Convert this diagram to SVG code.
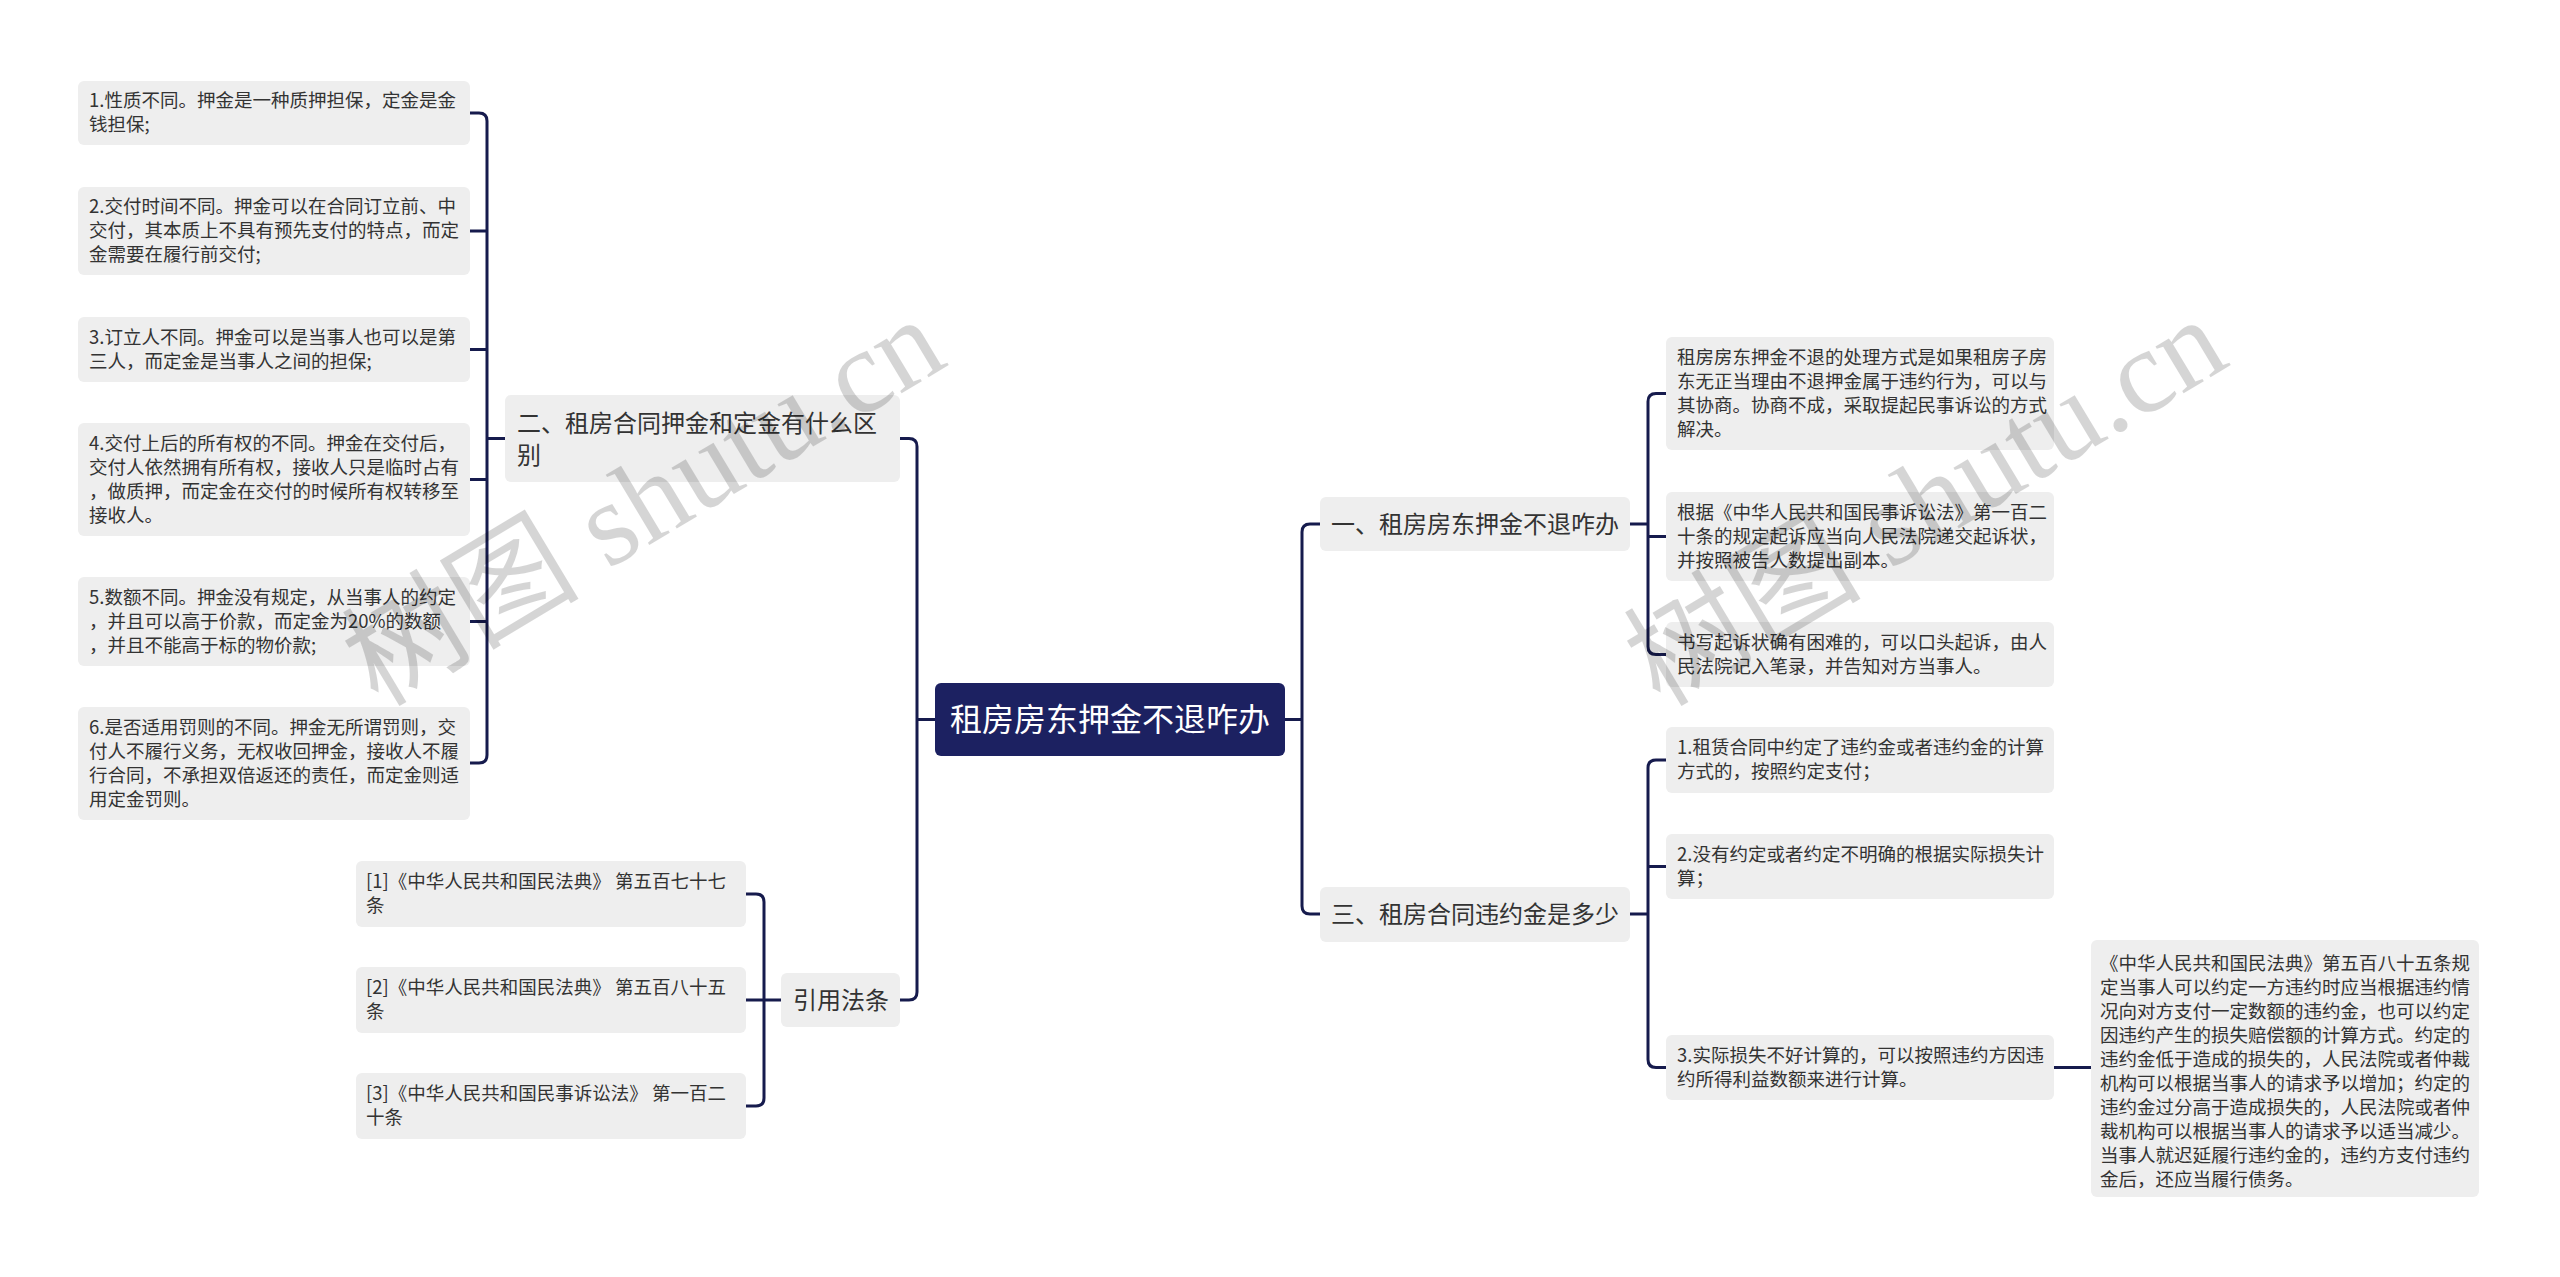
<svg xmlns="http://www.w3.org/2000/svg" width="2560" height="1277" viewBox="0 0 2560 1277">
<style>
.box{fill:#eeeeee}
.root{fill:#1c2161}
.t{font-family:"Noto Sans CJK SC","Noto Sans",sans-serif;fill:#333333}
.s{font-size:18.5px}
.m{font-size:24px}
.rt{font-family:"Noto Sans CJK SC","Noto Sans",sans-serif;font-size:32px;fill:#ffffff}
.ln{fill:none;stroke:#161b4d;stroke-width:3}
.wm{font-family:"Liberation Serif","Noto Sans CJK SC",serif;font-size:119px;fill:#000000;opacity:0.16}
</style>
<rect width="2560" height="1277" fill="#ffffff"/>
<g id="connectors">
<path class="ln" d="M935 719.5H917M900 438.5H909Q917 438.5 917 446.5V992Q917 1000 909 1000H900"/>
<path class="ln" d="M1285 719.5H1302M1320 524H1310Q1302 524 1302 532V906Q1302 914 1310 914H1320"/>
<path class="ln" d="M505 438.5H487M470 113H479Q487 113 487 121V755Q487 763 479 763H470M470 231H487M470 349.5H487M470 479.5H487M470 621.5H487"/>
<path class="ln" d="M781 1000H764M746 894H756Q764 894 764 902V1098Q764 1106 756 1106H746M746 1000H764"/>
<path class="ln" d="M1630 524H1648M1666 393.5H1656Q1648 393.5 1648 401.5V646.5Q1648 654.5 1656 654.5H1666M1648 536.5H1666"/>
<path class="ln" d="M1630 914H1648M1666 760H1656Q1648 760 1648 768V1059.5Q1648 1067.5 1656 1067.5H1666M1648 866.5H1666M2054 1067.5H2091"/>
</g>
<g id="root">
<rect class="root" x="935" y="683" width="350" height="73" rx="6"/>
<text class="rt" x="1110" y="731" text-anchor="middle">租房房东押金不退咋办</text>
</g>
<g id="n2">
<rect class="box" x="505" y="395" width="395" height="87" rx="6"/>
<text class="t m"><tspan x="517" y="431.5">二、租房合同押金和定金有什么区</tspan><tspan x="517" y="463.5">别</tspan></text>
</g>
<g id="n2c1">
<rect class="box" x="78" y="81" width="392" height="64" rx="6"/>
<text class="t s"><tspan x="89" y="107">1.性质不同。押金是一种质押担保，定金是金</tspan><tspan x="89" y="131">钱担保;</tspan></text>
</g>
<g id="n2c2">
<rect class="box" x="78" y="187" width="392" height="88" rx="6"/>
<text class="t s"><tspan x="89" y="213">2.交付时间不同。押金可以在合同订立前、中</tspan><tspan x="89" y="237">交付，其本质上不具有预先支付的特点，而定</tspan><tspan x="89" y="261">金需要在履行前交付;</tspan></text>
</g>
<g id="n2c3">
<rect class="box" x="78" y="317" width="392" height="65" rx="6"/>
<text class="t s"><tspan x="89" y="343.5">3.订立人不同。押金可以是当事人也可以是第</tspan><tspan x="89" y="367.5">三人，而定金是当事人之间的担保;</tspan></text>
</g>
<g id="n2c4">
<rect class="box" x="78" y="423" width="392" height="113" rx="6"/>
<text class="t s"><tspan x="89" y="449.5">4.交付上后的所有权的不同。押金在交付后，</tspan><tspan x="89" y="473.5">交付人依然拥有所有权，接收人只是临时占有</tspan><tspan x="89" y="497.5">，做质押，而定金在交付的时候所有权转移至</tspan><tspan x="89" y="521.5">接收人。</tspan></text>
</g>
<g id="n2c5">
<rect class="box" x="78" y="577" width="392" height="89" rx="6"/>
<text class="t s"><tspan x="89" y="603.5">5.数额不同。押金没有规定，从当事人的约定</tspan><tspan x="89" y="627.5">，并且可以高于价款，而定金为20%的数额</tspan><tspan x="89" y="651.5">，并且不能高于标的物价款;</tspan></text>
</g>
<g id="n2c6">
<rect class="box" x="78" y="707" width="392" height="113" rx="6"/>
<text class="t s"><tspan x="89" y="733.5">6.是否适用罚则的不同。押金无所谓罚则，交</tspan><tspan x="89" y="757.5">付人不履行义务，无权收回押金，接收人不履</tspan><tspan x="89" y="781.5">行合同，不承担双倍返还的责任，而定金则适</tspan><tspan x="89" y="805.5">用定金罚则。</tspan></text>
</g>
<g id="nref">
<rect class="box" x="781" y="973" width="119" height="54" rx="6"/>
<text class="t m" x="793" y="1008.5">引用法条</text>
</g>
<g id="ref1">
<rect class="box" x="356" y="861" width="390" height="66" rx="6"/>
<text class="t s"><tspan x="366" y="888">[1]《中华人民共和国民法典》 第五百七十七</tspan><tspan x="366" y="912">条</tspan></text>
</g>
<g id="ref2">
<rect class="box" x="356" y="967" width="390" height="66" rx="6"/>
<text class="t s"><tspan x="366" y="994">[2]《中华人民共和国民法典》 第五百八十五</tspan><tspan x="366" y="1018">条</tspan></text>
</g>
<g id="ref3">
<rect class="box" x="356" y="1073" width="390" height="66" rx="6"/>
<text class="t s"><tspan x="366" y="1100">[3]《中华人民共和国民事诉讼法》 第一百二</tspan><tspan x="366" y="1124">十条</tspan></text>
</g>
<g id="n1">
<rect class="box" x="1320" y="497" width="310" height="54" rx="6"/>
<text class="t m" x="1331" y="532.5">一、租房房东押金不退咋办</text>
</g>
<g id="n1c1">
<rect class="box" x="1666" y="337" width="388" height="113" rx="6"/>
<text class="t s"><tspan x="1677" y="363.5">租房房东押金不退的处理方式是如果租房子房</tspan><tspan x="1677" y="387.5">东无正当理由不退押金属于违约行为，可以与</tspan><tspan x="1677" y="411.5">其协商。协商不成，采取提起民事诉讼的方式</tspan><tspan x="1677" y="435.5">解决。</tspan></text>
</g>
<g id="n1c2">
<rect class="box" x="1666" y="492" width="388" height="89" rx="6"/>
<text class="t s"><tspan x="1677" y="518.5">根据《中华人民共和国民事诉讼法》第一百二</tspan><tspan x="1677" y="542.5">十条的规定起诉应当向人民法院递交起诉状，</tspan><tspan x="1677" y="566.5">并按照被告人数提出副本。</tspan></text>
</g>
<g id="n1c3">
<rect class="box" x="1666" y="622" width="388" height="65" rx="6"/>
<text class="t s"><tspan x="1677" y="648.5">书写起诉状确有困难的，可以口头起诉，由人</tspan><tspan x="1677" y="672.5">民法院记入笔录，并告知对方当事人。</tspan></text>
</g>
<g id="n3">
<rect class="box" x="1320" y="887" width="310" height="55" rx="6"/>
<text class="t m" x="1331" y="923">三、租房合同违约金是多少</text>
</g>
<g id="n3c1">
<rect class="box" x="1666" y="727" width="388" height="66" rx="6"/>
<text class="t s"><tspan x="1677" y="754">1.租赁合同中约定了违约金或者违约金的计算</tspan><tspan x="1677" y="778">方式的，按照约定支付；</tspan></text>
</g>
<g id="n3c2">
<rect class="box" x="1666" y="834" width="388" height="65" rx="6"/>
<text class="t s"><tspan x="1677" y="860.5">2.没有约定或者约定不明确的根据实际损失计</tspan><tspan x="1677" y="884.5">算；</tspan></text>
</g>
<g id="n3c3">
<rect class="box" x="1666" y="1035" width="388" height="65" rx="6"/>
<text class="t s"><tspan x="1677" y="1061.5">3.实际损失不好计算的，可以按照违约方因违</tspan><tspan x="1677" y="1085.5">约所得利益数额来进行计算。</tspan></text>
</g>
<g id="n3c3a">
<rect class="box" x="2091" y="940" width="388" height="257" rx="6"/>
<text class="t s"><tspan x="2100" y="970">《中华人民共和国民法典》第五百八十五条规</tspan><tspan x="2100" y="994">定当事人可以约定一方违约时应当根据违约情</tspan><tspan x="2100" y="1018">况向对方支付一定数额的违约金，也可以约定</tspan><tspan x="2100" y="1042">因违约产生的损失赔偿额的计算方式。约定的</tspan><tspan x="2100" y="1066">违约金低于造成的损失的，人民法院或者仲裁</tspan><tspan x="2100" y="1090">机构可以根据当事人的请求予以增加；约定的</tspan><tspan x="2100" y="1114">违约金过分高于造成损失的，人民法院或者仲</tspan><tspan x="2100" y="1138">裁机构可以根据当事人的请求予以适当减少。</tspan><tspan x="2100" y="1162">当事人就迟延履行违约金的，违约方支付违约</tspan><tspan x="2100" y="1186">金后，还应当履行债务。</tspan></text>
</g>
<g id="watermarks">
<text class="wm" transform="translate(378 708) rotate(-31)">树图 shutu.cn</text>
<text class="wm" transform="translate(1660 708) rotate(-31)">树图 shutu.cn</text>
</g>
</svg>
